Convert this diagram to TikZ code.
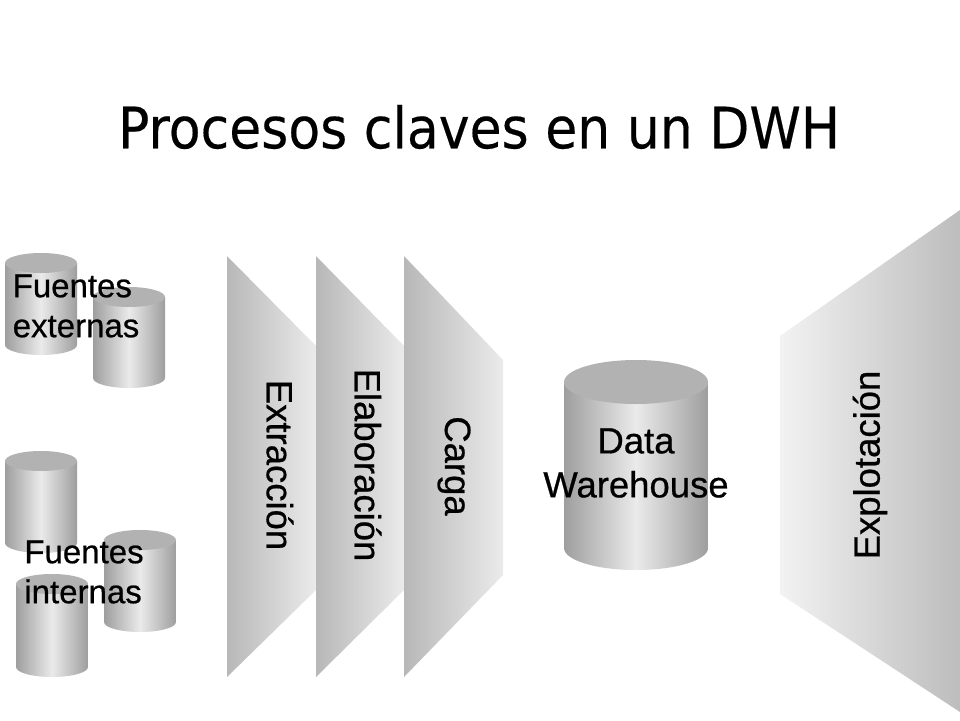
\documentclass[tikz,border=0pt]{standalone}
\usepackage{fontspec}
\setmainfont{Liberation Sans}
\newfontfamily\titlefont[FakeStretch=0.913,FakeBold=0.3]{DejaVu Sans}
\newfontfamily\labfont[FakeBold=0.6]{Liberation Sans}
\definecolor{edgegray}{gray}{0.62}
\definecolor{midgray}{gray}{0.92}
\definecolor{capgray}{gray}{0.70}
\definecolor{trapleft}{gray}{0.72}
\definecolor{trapright}{gray}{0.92}
\definecolor{explright}{gray}{0.74}
\definecolor{explleft}{gray}{0.95}
\tikzset{
  cylbody/.style={left color=edgegray,right color=edgegray,middle color=midgray,draw=none},
  cyltop/.style={fill=capgray,draw=none},
  trap/.style={left color=trapleft,right color=trapright,draw=none},
  expl/.style={left color=explleft,right color=explright,draw=none},
  lab/.style={font=\labfont\fontsize{36.5}{44}\selectfont,text=black,inner sep=0pt,align=center},
  smalllab/.style={font=\labfont\fontsize{33}{40}\selectfont,text=black,inner sep=0pt,align=left},
  title/.style={font=\titlefont\fontsize{57}{62}\selectfont,text=black,inner sep=0pt}
}
\newcommand{\drumshape}[5]{%
  \path[cylbody] (#1,#3+#5) -- (#1,#4-#5) arc[start angle=180,end angle=360,x radius={(#2-#1)/2},y radius=-#5]
     -- (#2,#3+#5) -- cycle;
  \path[cyltop] ({(#1+#2)/2},#3+#5) ellipse[x radius={(#2-#1)/2},y radius=#5];
}
\begin{document}
\begin{tikzpicture}[x=1pt,y=-1pt]
\useasboundingbox (0,0) rectangle (960,720);
\fill[white] (0,0) rectangle (960,720);
\node[title] (heading) at (479,127) {Procesos claves en un DWH};
\drumshape{5}{77}{253}{355}{10}
\drumshape{93}{165}{287}{388}{10}
\drumshape{5}{77}{451}{553}{10}
\drumshape{104}{176}{530}{632}{10}
\drumshape{16}{88}{574}{677}{10}
\drumshape{564}{708}{360}{570}{22}
\path[trap] (227,256) -- (316,346) -- (316,590) -- (227,677) -- cycle;
\path[trap] (316,256) -- (404,346) -- (404,590) -- (316,677) -- cycle;
\path[trap] (404,256) -- (503,360) -- (503,575) -- (404,677) -- cycle;
\path[expl] (780,336) -- (960,210) -- (960,712) -- (780,594) -- cycle;
\node[smalllab] (ext) at (76,306) {Fuentes\\externas};
\node[smalllab] (int) at (84,572) {Fuentes\\internas};
\node[lab,rotate=-90] (extr) at (280,465) {Extracción};
\node[lab,rotate=-90] (elab) at (368,465) {Elaboración};
\node[lab,rotate=-90] (carg) at (454,466) {Carga};
\node[lab] (dw) at (636,463) {Data\\Warehouse};
\node[lab,rotate=90] (expl) at (870,465) {Explotación};
\end{tikzpicture}
\end{document}
